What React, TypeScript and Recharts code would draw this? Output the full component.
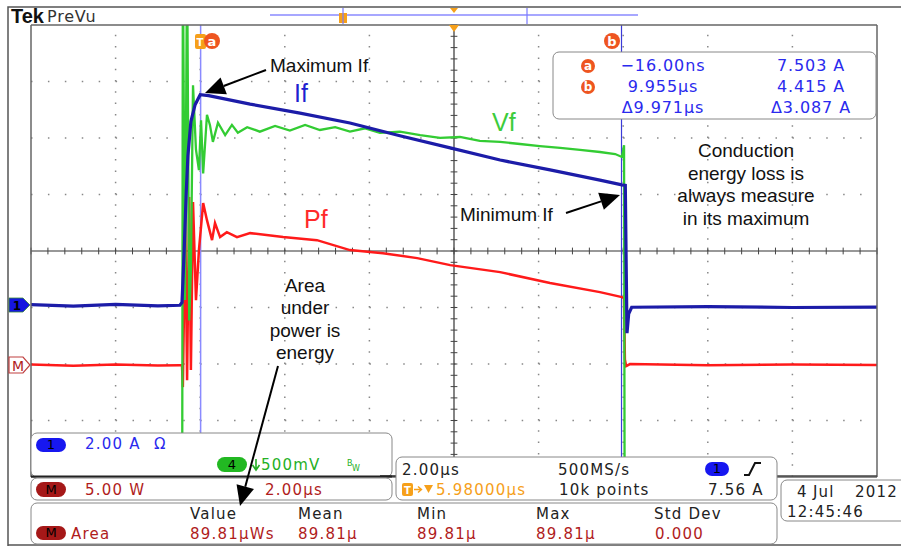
import React from 'react';
import { LineChart, Line, XAxis, YAxis, ReferenceLine } from 'recharts';

const W = 901;
const H = 546;

// traces read off the capture: [time µs (screen centre = 0), value]
// ch1 current, 2 A/div
const ifTrace: [number, number][] = [
  [-10, 0.02], [-9, -0.03], [-8, 0.03], [-7, -0.02], [-6.48, 0.0], [-6.43, 0.1],
  [-6.41, 0.8], [-6.38, 1.9], [-6.33, 4.0], [-6.29, 5.3], [-6.22, 6.5], [-6.12, 7.1],
  [-6.0, 7.45], [-5.8, 7.42], [-4.82, 7.12], [-3.64, 6.8], [-2.46, 6.45], [-1.28, 6.0],
  [-0.09, 5.57], [1.09, 5.14], [2.27, 4.79], [3.45, 4.43], [3.97, 4.26], [4.05, 4.24],
  [4.07, 1.5], [4.09, -0.99], [4.13, -0.3], [4.2, -0.07], [6, -0.05], [8, -0.08], [10, -0.07],
];

// ch4 diode voltage, 500 mV/div (reverse state sits below the screen)
const vfTrace: [number, number][] = [
  [-10, -3], [-6.43, -3], [-6.41, 3.2], [-6.36, 0.15], [-6.31, 3.2], [-6.26, -0.03],
  [-6.22, 0.42], [-6.17, 2.05], [-6.1, 1.48], [-6.03, 1.3], [-5.98, 1.74], [-5.93, 1.27],
  [-5.84, 1.79], [-5.77, 1.7], [-5.7, 1.55], [-5.58, 1.72], [-5.41, 1.61], [-5.25, 1.7],
  [-5.11, 1.63], [-4.89, 1.68], [-4.59, 1.64], [-4.23, 1.69], [-3.88, 1.65], [-3.52, 1.7],
  [-3.17, 1.655], [-2.81, 1.68], [-2.46, 1.64], [-2.1, 1.67], [-1.75, 1.63], [-1.28, 1.64],
  [-0.8, 1.61], [-0.33, 1.585], [0.14, 1.593], [0.61, 1.558], [1.09, 1.549], [1.56, 1.531],
  [2.03, 1.513], [2.51, 1.496], [2.98, 1.478], [3.45, 1.46], [3.81, 1.442], [3.97, 1.416],
  [4.02, 1.52], [4.04, -3], [10, -3],
];

// math channel power, 5 W/div
const pfTrace: [number, number][] = [
  [-10, 0.05], [-9, -0.05], [-8, 0.05], [-7, -0.03], [-6.48, 0.0], [-6.43, 0.0],
  [-6.41, -1.95], [-6.38, 5.75], [-6.36, 14.87], [-6.31, -1.33], [-6.26, 14.87], [-6.22, -0.44],
  [-6.17, 14.43], [-6.1, 5.75], [-6.03, 10.18], [-5.93, 14.34], [-5.84, 12.83], [-5.72, 11.06],
  [-5.65, 12.57], [-5.53, 11.33], [-5.37, 11.77], [-5.13, 11.33], [-4.82, 11.68], [-4.04, 11.33],
  [-3.24, 11.06], [-2.46, 10.18], [-1.68, 9.91], [-0.87, 9.47], [-0.09, 8.85], [1.09, 8.23],
  [2.27, 7.26], [3.45, 6.46], [3.97, 6.02], [4.02, 5.93], [4.04, 0.5], [4.07, -0.09],
  [4.16, 0.09], [6, 0.0], [8, 0.05], [10, 0.02],
];

const cursorA = -5.99;
const cursorB = 3.96;

const toRows = (tr: [number, number][]) => tr.map(([t, v]) => ({ t, v }));

// graticule
const gridX = [-8, -6, -4, -2, 2, 4, 6, 8];
const gridY = [-3, -2, -1, 1, 2, 3];
const minorX = Array.from({ length: 51 }, (_, i) => +(-10 + i * 0.4).toFixed(2));
const minorY = Array.from({ length: 41 }, (_, i) => +(-4 + i * 0.2).toFixed(2));

const blue = '#2a2aee';
const darkRed = '#b01c1c';
const tekGreen = '#25b025';
const orange = '#f6a01a';
const curOrange = '#ee5520';
const tek = '"DejaVu Sans", sans-serif';
const arial = '"Liberation Sans", Arial, sans-serif';

function Arrow({ from, to }: { from: [number, number]; to: [number, number] }) {
  const [x1, y1] = from;
  const [x2, y2] = to;
  const a = Math.atan2(y2 - y1, x2 - x1);
  const len = 20;
  const half = 9;
  const bx = x2 - len * Math.cos(a);
  const by = y2 - len * Math.sin(a);
  const px = -Math.sin(a) * half;
  const py = Math.cos(a) * half;
  return (
    <g>
      <line x1={x1} y1={y1} x2={bx} y2={by} stroke="#000" strokeWidth={2} />
      <polygon points={`${x2},${y2} ${bx + px},${by + py} ${bx - px},${by - py}`} fill="#000" />
    </g>
  );
}

function Pill({ x, y, w, h, fill, label, color = '#000' }: any) {
  return (
    <g>
      <rect x={x} y={y} width={w} height={h} rx={h / 2} fill={fill} />
      <text x={x + w / 2} y={y + h - 3} textAnchor="middle" fontSize={13} fill={color} fontFamily={tek}>
        {label}
      </text>
    </g>
  );
}

function T({ x, y, c = '#222', size = 15, anchor = 'start', ls = 1.2, children }: any) {
  return (
    <text x={x} y={y} fill={c} fontSize={size} fontFamily={tek} letterSpacing={ls} textAnchor={anchor}>
      {children}
    </text>
  );
}

function Overlay() {
  return (
    <svg width={W} height={H} style={{ position: 'absolute', left: 0, top: 0, pointerEvents: 'none' }}>
      {/* screen frame */}
      <path d="M8 546 V7 H901" stroke="#555" strokeWidth={1.5} fill="none" />
      <line x1={8} y1={545} x2={901} y2={545} stroke="#555" strokeWidth={1.5} />
      <text x={11} y={23} fontSize={20} fontWeight="bold" fontFamily={arial} fill="#111">Tek</text>
      <text x={47} y={22} fontSize={16} fontFamily={tek} letterSpacing={0.8} fill="#333">PreVu</text>

      {/* record bar */}
      <line x1={270} y1={15} x2={638} y2={15} stroke="#8a8aff" strokeWidth={1.5} />
      <rect x={339} y={13} width={8} height={10} fill={orange} />
      <line x1={343} y1={8} x2={343} y2={24} stroke="#7a7aff" strokeWidth={1.2} />
      <line x1={527} y1={8} x2={527} y2={24} stroke="#7a7aff" strokeWidth={1.2} />
      <polygon points="450,8 458,8 454,13" fill={orange} />
      <polygon points="449,25 459,25 454,32" fill={orange} />

      {/* cursor tags */}
      <rect x={195} y={34} width={11} height={15} rx={2} fill={orange} />
      <text x={200} y={46} fontSize={10} textAnchor="middle" fill="#fff" fontFamily={tek} fontWeight="bold">T</text>
      <circle cx={212} cy={41} r={8} fill={curOrange} />
      <text x={212} y={46} fontSize={13} textAnchor="middle" fill="#fff" fontFamily={tek} fontWeight="bold">a</text>
      <circle cx={612} cy={41} r={8} fill={curOrange} />
      <text x={612} y={46} fontSize={13} textAnchor="middle" fill="#fff" fontFamily={tek} fontWeight="bold">b</text>

      {/* cursor readout */}
      <rect x={553} y={52} width={323} height={67} rx={6} fill="#fff" stroke="#888" />
      <circle cx={588} cy={66} r={7} fill={curOrange} />
      <text x={588} y={70} fontSize={12} textAnchor="middle" fill="#fff" fontFamily={tek} fontWeight="bold">a</text>
      <circle cx={588} cy={87} r={7} fill={curOrange} />
      <text x={588} y={91} fontSize={12} textAnchor="middle" fill="#fff" fontFamily={tek} fontWeight="bold">b</text>
      <T x={663} y={71} c={blue} size={16} anchor="middle" ls={0.9}>−16.00ns</T>
      <T x={811} y={71} c={blue} size={16} anchor="middle" ls={0.9}>7.503 A</T>
      <T x={663} y={92} c={blue} size={16} anchor="middle" ls={0.9}>9.955µs</T>
      <T x={811} y={92} c={blue} size={16} anchor="middle" ls={0.9}>4.415 A</T>
      <T x={663} y={113} c={blue} size={16} anchor="middle" ls={0.9}>Δ9.971µs</T>
      <T x={811} y={113} c={blue} size={16} anchor="middle" ls={0.9}>Δ3.087 A</T>

      {/* annotations */}
      <text x={270} y={72} fontSize={19} fontFamily={arial} fill="#111">Maximum If</text>
      <Arrow from={[266, 70]} to={[205, 93]} />
      <text x={294} y={102} fontSize={25} fontFamily={arial} fill="#1f1fd0">If</text>
      <text x={492} y={131} fontSize={25} fontFamily={arial} fill="#3ccc3c">Vf</text>
      <text x={304} y={228} fontSize={25} fontFamily={arial} fill="#ff2a2a">Pf</text>
      <text x={460} y={221} fontSize={19} fontFamily={arial} fill="#111">Minimum If</text>
      <Arrow from={[566, 213]} to={[620, 195]} />
      <text fontSize={19} fontFamily={arial} fill="#111" textAnchor="middle">
        <tspan x={746} y={157}>Conduction</tspan>
        <tspan x={746} y={180}>energy loss is</tspan>
        <tspan x={746} y={202}>always measure</tspan>
        <tspan x={746} y={225}>in its maximum</tspan>
      </text>
      <text fontSize={19} fontFamily={arial} fill="#111" textAnchor="middle">
        <tspan x={305} y={292}>Area</tspan>
        <tspan x={305} y={314}>under</tspan>
        <tspan x={305} y={337}>power is</tspan>
        <tspan x={305} y={359}>energy</tspan>
      </text>

      {/* ground markers */}
      <path d="M9 298 H23 L30 305 L23 312 H9 Z" fill="#1515e0" stroke="#3a8a3a" strokeWidth={0.8} />
      <text x={17} y={310} fontSize={12} fontWeight="bold" textAnchor="middle" fontFamily={tek} fill="#000">1</text>
      <path d="M9 357 H23 L30 365 L23 373 H9 Z" fill="#fff" stroke="#c04040" strokeWidth={1.2} />
      <text x={18} y={370.5} fontSize={14} textAnchor="middle" fontFamily={tek} fill={darkRed}>M</text>

      {/* vertical/channel box */}
      <rect x={31} y={433} width={361} height={44} rx={6} fill="#fff" stroke="#888" />
      <line x1={31} y1={476.5} x2={392} y2={476.5} stroke="#222" strokeWidth={2} />
      <Pill x={36} y={438} w={30} h={14} fill="#1717f0" label="1" />
      <T x={85} y={449} c={blue}>2.00 A</T>
      <T x={154} y={449} c={blue}>Ω</T>
      <Pill x={217} y={457} w={30} h={15} fill="#22b822" label="4" />
      <path d="M256 459 V469 M252.5 465 L256 470 L259.5 465" stroke={tekGreen} strokeWidth={1.6} fill="none" />
      <T x={261} y={470} c={tekGreen}>500mV</T>
      <text x={347} y={466} fontSize={8} fill={tekGreen} fontFamily={tek}>B</text>
      <text x={352} y={471} fontSize={8} fill={tekGreen} fontFamily={tek}>W</text>

      {/* math box */}
      <rect x={31} y={478} width={361} height={22} rx={6} fill="#fff" stroke="#888" />
      <Pill x={36} y={482} w={30} h={15} fill="#a51818" label="M" />
      <T x={85} y={495} c={darkRed}>5.00 W</T>
      <T x={265} y={495} c={darkRed}>2.00µs</T>

      {/* horizontal box */}
      <line x1={380} y1={476} x2={396} y2={476} stroke="#222" strokeWidth={1.5} />
      <line x1={777} y1={476} x2={877} y2={476} stroke="#444" strokeWidth={1.5} />
      <rect x={396} y={457} width={381} height={43} rx={6} fill="#fff" stroke="#888" />
      <T x={402} y={475}>2.00µs</T>
      <T x={558} y={475}>500MS/s</T>
      <Pill x={705} y={462} w={24} h={14} fill="#1717f0" label="1" />
      <path d="M744 475 H749 L755 463 H761" stroke="#111" strokeWidth={2} fill="none" />
      <rect x={402} y={483} width={11} height={13} rx={2} fill={orange} />
      <text x={407.5} y={494} fontSize={10} textAnchor="middle" fill="#fff" fontFamily={tek} fontWeight="bold">T</text>
      <path d="M414 489.5 H421 M418 486.5 L421.5 489.5 L418 492.5" stroke={orange} strokeWidth={1.4} fill="none" />
      <polygon points="424,485 433,485 428.5,493" fill={orange} />
      <T x={436} y={495} c={orange}>5.98000µs</T>
      <T x={559} y={495}>10k points</T>
      <T x={708} y={495}>7.56 A</T>

      {/* date box */}
      <rect x={781} y={480} width={130} height={41} rx={6} fill="#fff" stroke="#888" />
      <T x={797} y={497}>4</T>
      <T x={813} y={497}>Jul</T>
      <T x={855} y={497}>2012</T>
      <T x={787} y={517}>12:45:46</T>

      {/* measurement box */}
      <rect x={31} y={503} width={746} height={41} rx={6} fill="#fff" stroke="#888" />
      <T x={190} y={519}>Value</T>
      <T x={298} y={519}>Mean</T>
      <T x={417} y={519}>Min</T>
      <T x={536} y={519}>Max</T>
      <T x={654} y={519}>Std Dev</T>
      <Pill x={36} y={526} w={30} h={14} fill="#a51818" label="M" />
      <T x={71} y={539} c={darkRed}>Area</T>
      <T x={190} y={539} c={darkRed}>89.81µWs</T>
      <T x={298} y={539} c={darkRed}>89.81µ</T>
      <T x={417} y={539} c={darkRed}>89.81µ</T>
      <T x={536} y={539} c={darkRed}>89.81µ</T>
      <T x={655} y={539} c={darkRed}>0.000</T>

      <Arrow from={[278, 366]} to={[240, 506]} />
    </svg>
  );
}

export default function App() {
  const axisLine = { stroke: '#666', strokeWidth: 1.5 };
  const tickLine = { stroke: '#777' };
  return (
    <div style={{ position: 'absolute', left: 0, top: 0, width: W, height: H, background: '#fff' }}>
      <LineChart width={W} height={H} margin={{ top: 25, right: 24, bottom: 69, left: 31 }}>
        <XAxis xAxisId="t" type="number" dataKey="t" domain={[-10, 10]} ticks={minorX} tick={false}
          tickSize={4} mirror axisLine={axisLine} tickLine={tickLine} allowDataOverflow />
        <XAxis xAxisId="top" orientation="top" type="number" dataKey="t" domain={[-10, 10]} ticks={minorX}
          tick={false} tickSize={4} mirror axisLine={axisLine} tickLine={tickLine} allowDataOverflow />
        <YAxis yAxisId="div" type="number" domain={[-4, 4]} ticks={minorY} tick={false} tickSize={4}
          mirror axisLine={axisLine} tickLine={tickLine} allowDataOverflow />
        <YAxis yAxisId="divR" orientation="right" type="number" domain={[-4, 4]} ticks={minorY} tick={false}
          tickSize={4} mirror axisLine={axisLine} tickLine={tickLine} allowDataOverflow />
        <YAxis yAxisId="i" hide type="number" domain={[-6.08, 9.92]} allowDataOverflow />
        <YAxis yAxisId="p" hide type="number" domain={[-9.9, 30.1]} allowDataOverflow />
        <YAxis yAxisId="v" hide type="number" domain={[-1.416, 2.584]} allowDataOverflow />

        {gridX.map((x) => (
          <ReferenceLine key={'gx' + x} xAxisId="t" yAxisId="div" x={x} stroke="#888" strokeWidth={1.5}
            strokeDasharray="1.5 9.8" />
        ))}
        {gridY.map((y) => (
          <ReferenceLine key={'gy' + y} xAxisId="t" yAxisId="div" y={y} stroke="#888" strokeWidth={1.5}
            strokeDasharray="1.5 15.42" />
        ))}
        <ReferenceLine xAxisId="t" yAxisId="div" x={0} stroke="#333" strokeWidth={1.2} />
        <ReferenceLine xAxisId="t" yAxisId="div" y={0} stroke="#333" strokeWidth={1.2} />
        {minorX.map((t) => (
          <ReferenceLine key={'cx' + t} xAxisId="t" yAxisId="div" stroke="#444"
            segment={[{ x: t, y: -0.06 }, { x: t, y: 0.06 }]} />
        ))}
        {minorY.map((y) => (
          <ReferenceLine key={'cy' + y} xAxisId="t" yAxisId="div" stroke="#444"
            segment={[{ x: -0.08, y }, { x: 0.08, y }]} />
        ))}

        <ReferenceLine xAxisId="t" yAxisId="div" x={cursorA} stroke="#8a8aff" strokeWidth={1.5} />
        <ReferenceLine xAxisId="t" yAxisId="div" x={cursorB} stroke="#3b3bd8" strokeWidth={1.2} />

        <Line data={toRows(pfTrace)} dataKey="v" xAxisId="t" yAxisId="p" type="linear" stroke="#ff1a1a"
          strokeWidth={2.5} dot={false} isAnimationActive={false} />
        <Line data={toRows(vfTrace)} dataKey="v" xAxisId="t" yAxisId="v" type="linear" stroke="#33cc33"
          strokeWidth={2.3} dot={false} isAnimationActive={false} />
        <Line data={toRows(ifTrace)} dataKey="v" xAxisId="t" yAxisId="i" type="linear" stroke="#1c1ca8"
          strokeWidth={3.2} dot={false} isAnimationActive={false} />
      </LineChart>
      <Overlay />
    </div>
  );
}
